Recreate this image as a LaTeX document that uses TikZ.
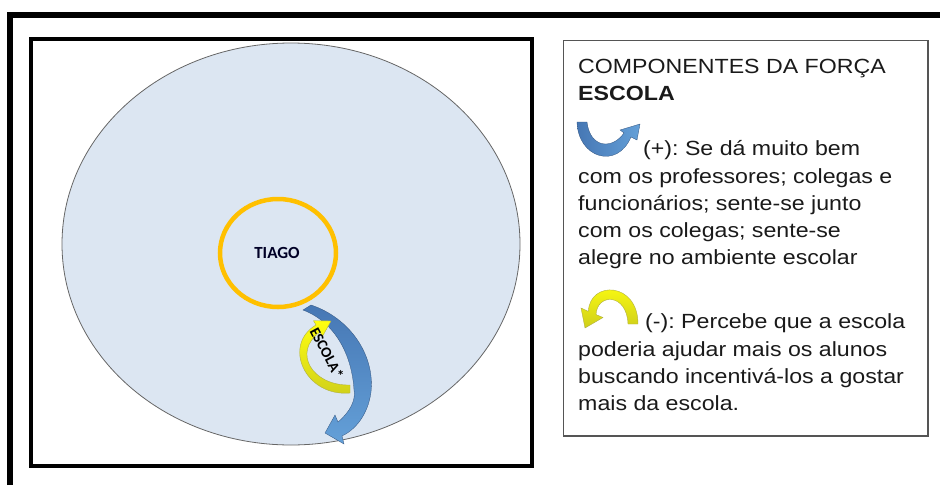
\documentclass[tikz,border=0pt]{standalone}
\usepackage{fontspec}
\setmainfont{Liberation Sans}
\newfontfamily\calfont{Carlito}
\newfontfamily\legfont{Liberation Sans}[FakeStretch=1.13]
\usetikzlibrary{calc}
\frenchspacing
\definecolor{skyfill}{HTML}{DCE6F2}
\definecolor{ringor}{HTML}{FFC000}
\definecolor{arrblue}{HTML}{4677B4}
\definecolor{arrbluel}{HTML}{64A0D8}
\definecolor{arryel}{HTML}{FFFF10}
\definecolor{arryeld}{HTML}{CFCF1A}
\definecolor{boxgray}{HTML}{555555}
\definecolor{txtdark}{HTML}{1A1A1A}
\tikzset{
  legtext/.style={anchor=base west,inner sep=0pt,text=txtdark,
    font=\legfont\fontsize{20.5}{24}\selectfont},
  bluearrow/.style={top color=arrblue,bottom color=arrbluel,draw=arrblue!70!black,line width=0.3},
  yelarrow/.style={top color=arryel,bottom color=arryeld,draw=arryeld!60!gray,line width=0.4}
}

\begin{document}
\begin{tikzpicture}[x=1pt,y=-1pt,line join=miter]
  \useasboundingbox (0,0) rectangle (940,485);
  % frames
  \draw[line width=6] (10,485) -- (10,15) -- (940,15);
  \draw[line width=4] (31,39) rectangle (532,466);
  \draw[boxgray,line width=1.5] (563.5,40.5) rectangle (928,436);
  % field and person
  \filldraw[fill=skyfill,draw=gray!80!black,line width=0.8] (291,244) ellipse [x radius=229,y radius=201];
  \draw[ringor,line width=4.5] (278,253) ellipse [x radius=58,y radius=54];
  \node[font=\calfont\bfseries\fontsize{17}{20}\selectfont,text=black!85!blue] (tiago) at (277,253) {TIAGO};
  % force arrows
  \path[bluearrow] (311,305) .. controls (350,318) and (375,355) .. (371,392)
    .. controls (368,415) and (355,430) .. (342,436)
    -- (344,444) -- (325,433) -- (335,415) -- (338,422)
    .. controls (350,412) and (356,400) .. (354,390)
    .. controls (352,355) and (335,322) .. (303,310) -- cycle;
  \path[yelarrow] (350,393) .. controls (305,397) and (282,345) .. (316,325)
    -- (313.5,320.7) -- (331,321) -- (322.5,336.3) -- (320,332)
    .. controls (292,352) and (312,386) .. (350,385) -- cycle;
  \node[rotate=-62,font=\calfont\bfseries\fontsize{15}{17}\selectfont] (escola) at (327,353) {ESCOLA*};
  % legend
  \node[legtext] (ltitle) at (578,73.5) {COMPONENTES DA FORÇA};
  \node[legtext,font=\legfont\bfseries\fontsize{20.5}{24}\selectfont] (lname) at (578,100) {ESCOLA};
  \path[bluearrow,left color=arrblue,right color=arrbluel] (577,122) .. controls (578,158) and (617,170) .. (631,137)
    -- (637,140) -- (640,124) -- (620,130) -- (624,133)
    .. controls (612,150) and (590,148) .. (587,122) -- cycle;
  \node[legtext] (lp1) at (643,155) {(+): Se dá muito bem};
  \node[legtext] (lp2) at (578,183) {com os professores; colegas e};
  \node[legtext] (lp3) at (578,210) {funcionários; sente-se junto};
  \node[legtext] (lp4) at (578,237) {com os colegas; sente-se};
  \node[legtext] (lp5) at (578,264) {alegre no ambiente escolar};
  \path[yelarrow] (638,324) .. controls (638,282) and (590,280) .. (588.3,311.4)
    -- (581,308) -- (585,328) -- (603,317.5) -- (596,314.6)
    .. controls (597,293) and (627,293) .. (628,324) -- cycle;
  \node[legtext] (lm1) at (645,328) {(-): Percebe que a escola};
  \node[legtext] (lm2) at (578,356) {poderia ajudar mais os alunos};
  \node[legtext] (lm3) at (578,383) {buscando incentivá-los a gostar};
  \node[legtext] (lm4) at (578,410) {mais da escola.};
\end{tikzpicture}
\end{document}
